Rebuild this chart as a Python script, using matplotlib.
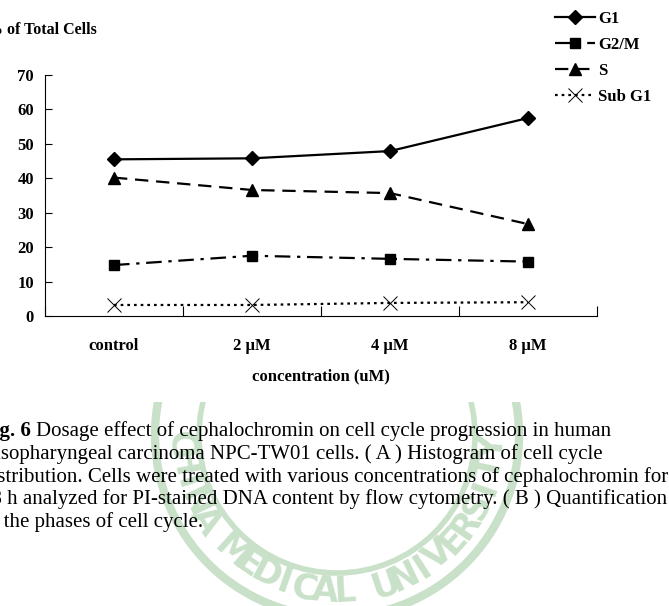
import numpy as np
import matplotlib.pyplot as plt
from matplotlib.patches import Circle, Rectangle

plt.rcParams['font.family'] = ['Liberation Serif', 'DejaVu Serif']

# data
concs = ['control', '2 \u03bcM', '4 \u03bcM', '8 \u03bcM']
g1 = [45.5, 45.8, 47.9, 57.5]
g2m = [14.8, 17.5, 16.6, 15.8]
s_phase = [40.2, 36.6, 35.7, 26.7]
sub_g1 = [3.2, 3.2, 3.8, 4.0]
series_names = ['G1', 'G2/M', 'S', 'Sub G1']
yticks = [0, 10, 20, 30, 40, 50, 60, 70]

caption_head = 'Fig. 6'
caption = [
    'Dosage effect of cephalochromin on cell cycle progression in human',
    'nasopharyngeal carcinoma NPC-TW01 cells. ( A ) Histogram of cell cycle',
    'distribution. Cells were treated with various concentrations of cephalochromin for',
    '48 h analyzed for PI-stained DNA content by flow cytometry. ( B ) Quantification',
    'of the phases of cell cycle.',
]
watermark = 'CHINA MEDICAL UNIVERSITY'

W, H = 669, 606
fig = plt.figure(figsize=(W / 100, H / 100), dpi=100)

# faint university seal behind the caption (pixel coords, y down)
bg = fig.add_axes([0, 0, 1, 1], zorder=0)
bg.set_xlim(0, W)
bg.set_ylim(H, 0)
bg.axis('off')
green = '#c8e1c8'
clip = Rectangle((0, 402), W, H - 402, transform=bg.transData)
cx, cy = 337, 435
for r, lw in [(182, 6), (138, 4)]:
    c = Circle((cx, cy), r, fill=False, ec=green, lw=lw)
    bg.add_patch(c)
    c.set_clip_path(clip)
for i, ch in enumerate(watermark):
    a = 177 - 7.5 * i
    t = np.deg2rad(a)
    px = cx + 157 * np.cos(t)
    py = cy + 157 * np.sin(t)
    if py < 395 or ch == ' ':
        continue
    wm = bg.text(px, py, ch, color=green, fontsize=25, fontweight='bold',
                 family=['Liberation Sans Narrow', 'DejaVu Sans'],
                 ha='center', va='center', rotation=90 - a)
    wm.set_clip_path(clip)

ax = fig.add_axes([45 / W, 1 - 316 / H, (597 - 45) / W, (316 - 75) / H], zorder=2)
ax.patch.set_alpha(0)

x = np.arange(len(concs))
l1, = ax.plot(x, g1, color='black', lw=1.6, marker='D', ms=7, label=series_names[0])
l2, = ax.plot(x, g2m, color='black', lw=1.6, marker='s', ms=7.5,
              dashes=(7, 3, 1.5, 3), label=series_names[1])
l3, = ax.plot(x, s_phase, color='black', lw=1.6, marker='^', ms=9,
              dashes=(6, 3.5), label=series_names[2])
l4, = ax.plot(x, sub_g1, color='black', lw=1.6, marker='x', ms=10, mew=0.7,
              dashes=(1.2, 1.8), label=series_names[3])

ax.set_xlim(-0.5, len(concs) - 0.5)
ax.set_ylim(0, 70)
ax.set_yticks(yticks)
ax.set_xticks(x)
ax.set_xticklabels(concs)
ax.set_xticks(np.arange(len(concs) + 1) - 0.5, minor=True)
ax.tick_params(axis='x', which='major', length=0, pad=16)
ax.tick_params(axis='x', which='minor', direction='in', length=7, width=0.8)
ax.tick_params(axis='y', direction='in', length=5, width=0.8, pad=8)
for lab in ax.get_xticklabels() + ax.get_yticklabels():
    lab.set_fontweight('bold')
    lab.set_fontsize(12)
ax.spines['top'].set_visible(False)
ax.spines['right'].set_visible(False)
ax.spines['left'].set_linewidth(0.8)
ax.spines['bottom'].set_linewidth(0.8)
ax.set_xlabel('concentration (uM)', fontsize=12, fontweight='bold', labelpad=10)

fig.text(-13 / W, 1 - 30 / H, '% of Total Cells', fontsize=11.5, fontweight='bold',
         va='center', ha='left')

fig.legend(handles=[l1, l2, l3, l4], loc='upper left',
           bbox_to_anchor=(540 / W, 1 + 4 / H), frameon=False,
           prop={'size': 12, 'weight': 'bold'}, handlelength=2.4,
           handletextpad=0.2, labelspacing=0.6)

# caption under the chart
left = -19 / W
fs = 15
y0, dy = 431, 22.8
head = fig.text(left, 1 - y0 / H, caption_head + ' ', fontsize=fs, fontweight='bold',
                va='center', ha='left', zorder=3)
fig.canvas.draw()
bb = head.get_window_extent()
fig.text(bb.x1 / W, 1 - y0 / H, caption[0], fontsize=fs, va='center', ha='left', zorder=3)
for i, line in enumerate(caption[1:]):
    fig.text(left, 1 - (y0 + dy * (i + 1)) / H, line, fontsize=fs, va='center',
             ha='left', zorder=3)

fig.savefig('out.png', dpi=100)
